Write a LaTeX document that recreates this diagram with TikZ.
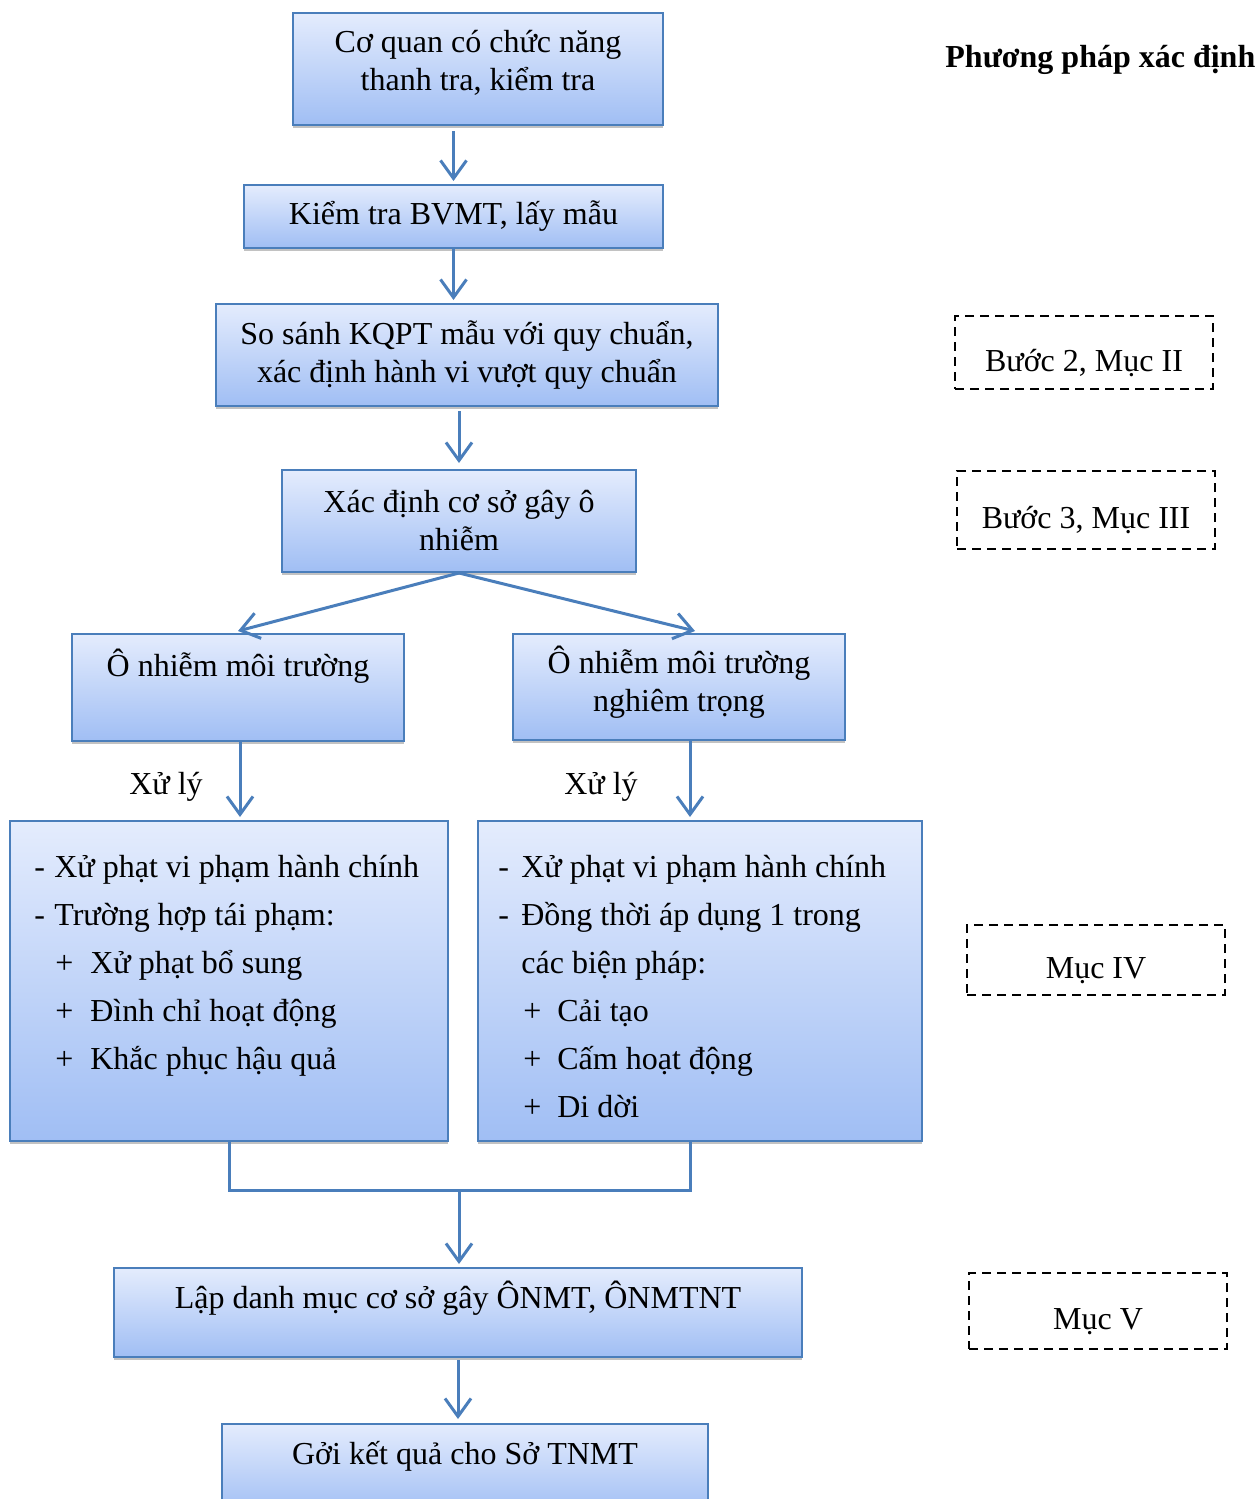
\documentclass[tikz,border=0pt]{standalone}
\usepackage{fontspec}
\setmainfont{Liberation Serif}
\usetikzlibrary{arrows.meta,shadows}
\definecolor{bordc}{RGB}{74,126,187}
\definecolor{topc}{RGB}{228,236,253}
\definecolor{botc}{RGB}{160,190,244}
\tikzset{
 box/.style={draw=bordc, line width=1pt, top color=topc, bottom color=botc, align=center,
   font=\fontsize{16}{19}\selectfont, inner sep=0pt,
   drop shadow={shadow xshift=0pt, shadow yshift=-1.5pt, fill=black!40, opacity=0.6}},
 arr/.style={draw=bordc, line width=1.5pt, -{Straight Barb[length=9pt,width=13pt]}},
 link/.style={draw=bordc, line width=1.5pt},
 dbox/.style={draw=black, line width=1pt, dash pattern=on 4.5pt off 3pt, minimum width=129pt,
   font=\fontsize{16}{19}\selectfont, text height=18.5pt, text depth=0pt},
 lbl/.style={font=\fontsize{16}{19}\selectfont, inner sep=0pt},
 listtxt/.style={inner sep=0pt, anchor=base west, font=\fontsize{16}{24}\selectfont},
}
\begin{document}
\begin{tikzpicture}[x=0.5pt,y=-0.5pt]
\useasboundingbox (0,0) rectangle (1258,1499);
% main boxes
\node[box, minimum width=185pt, minimum height=56pt] (b1) at (478,69) {Cơ quan có chức năng\\thanh tra, kiểm tra\\[-16pt]\strut};
\node[box, minimum width=209.5pt, minimum height=31.5pt] (b2) at (453.5,216.5) {Kiểm tra BVMT, lấy mẫu};
\node[box, minimum width=251pt, minimum height=51pt] (b3) at (467,355) {So sánh KQPT mẫu với quy chuẩn,\\xác định hành vi vượt quy chuẩn};
\node[box, minimum width=177pt, minimum height=51pt] (b4) at (459,521) {Xác định cơ sở gây ô\\nhiễm};
\node[box, minimum width=166pt, minimum height=53.5pt] (b5l) at (238,687.5) {Ô nhiễm môi trường\\\strut};
\node[box, minimum width=166pt, minimum height=53pt] (b5r) at (679,687) {Ô nhiễm môi trường\\nghiêm trọng\\[-16pt]\strut};
\node[box, minimum width=219pt, minimum height=160pt] (b6l) at (229,981) {};
\node[box, minimum width=222pt, minimum height=160pt] (b6r) at (700,981) {};
\node[box, minimum width=344pt, minimum height=44.5pt] (b7) at (458,1312.5) {Lập danh mục cơ sở gây ÔNMT, ÔNMTNT\\[-7pt]\strut};
\node[box, minimum width=243pt, minimum height=45pt] (b8) at (465,1469) {Gởi kết quả cho Sở TNMT\\[-9pt]\strut};
% list texts
\node[listtxt] (t6l) at ([xshift=12.5pt,yshift=-28.5pt]b6l.north west) {\begin{minipage}[t]{210pt}
\makebox[10pt][l]{-}Xử phạt vi phạm hành chính\\
\makebox[10pt][l]{-}Trường hợp tái phạm:\\
\hspace*{10.5pt}\makebox[17.5pt][l]{+}Xử phạt bổ sung\\
\hspace*{10.5pt}\makebox[17.5pt][l]{+}Đình chỉ hoạt động\\
\hspace*{10.5pt}\makebox[17.5pt][l]{+}Khắc phục hậu quả
\end{minipage}};
\node[listtxt] (t6r) at ([xshift=10.5pt,yshift=-28.5pt]b6r.north west) {\begin{minipage}[t]{210pt}
\makebox[11.5pt][l]{-}Xử phạt vi phạm hành chính\\
\makebox[11.5pt][l]{-}Đồng thời áp dụng 1 trong\\
\hspace*{11.5pt}các biện pháp:\\
\hspace*{12.5pt}\makebox[17pt][l]{+}Cải tạo\\
\hspace*{12.5pt}\makebox[17pt][l]{+}Cấm hoạt động\\
\hspace*{12.5pt}\makebox[17pt][l]{+}Di dời
\end{minipage}};
% labels
\node[lbl] (x1) at (166,787) {Xử lý};
\node[lbl] (x2) at (601,787) {Xử lý};
\node[lbl, font=\fontsize{16}{19}\selectfont\bfseries, anchor=west] (title) at (945,60) {Phương pháp xác định};
% dashed boxes
\node[dbox, minimum height=36.5pt] (d1) at (1084,352.5) {Bước 2, Mục II};
\node[dbox, minimum height=39pt] (d2) at (1086,510) {Bước 3, Mục III};
\node[dbox, minimum height=35pt] (d3) at (1096,960) {Mục IV};
\node[dbox, minimum height=38pt] (d4) at (1098,1311) {Mục V};
% arrows
\draw[arr] ([yshift=-2.5pt]b2.north |- b1.south) -- ([yshift=1.5pt]b2.north);
\draw[arr] (b2.south) -- ([yshift=1.5pt]b2.south |- b3.north);
\draw[arr] ([yshift=-2pt]b4.north |- b3.south) -- ([yshift=3pt]b4.north);
\draw[arr] (b4.south) -- ([yshift=1pt]b5l.north);
\draw[arr] (b4.south) -- ([xshift=8pt,yshift=1pt]b5r.north);
\draw[arr] ([xshift=1pt]b5l.south) -- ([xshift=1pt,yshift=1.5pt]b5l.south |- b6l.north);
\draw[arr] ([xshift=5.5pt]b5r.south) -- ([xshift=5.5pt,yshift=1.5pt]b5r.south |- b6r.north);
\coordinate (m) at (459,1190);
\draw[link] (b6l.south) |- (m) -| ([xshift=-5pt]b6r.south);
\draw[arr] (m) -- ([yshift=1.5pt]m |- b7.north);
\draw[arr] ([yshift=-1pt]b7.south) -- ([yshift=2pt]b7.south |- b8.north);
\end{tikzpicture}
\end{document}
